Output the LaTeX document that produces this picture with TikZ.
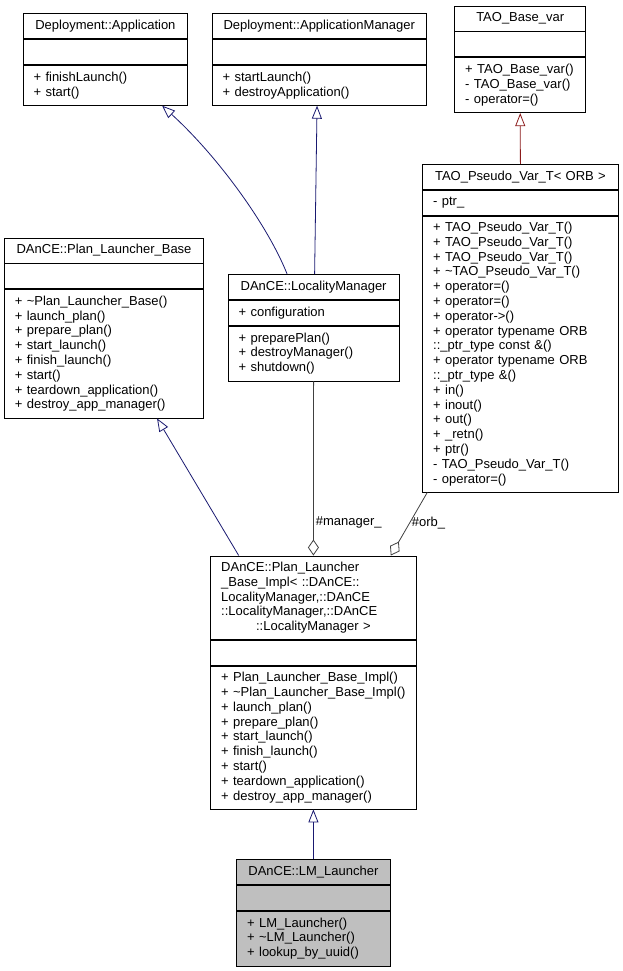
\documentclass[tikz,border=0pt]{standalone}
\usepackage{fontspec}
\setmainfont{Liberation Sans}
\usetikzlibrary{arrows.meta}
\definecolor{inhblue}{HTML}{191970}
\definecolor{inhred}{HTML}{8B1A1A}
\definecolor{aggray}{HTML}{404040}
\definecolor{lmgray}{HTML}{BFBFBF}
\newcommand{\umlfont}{\fontsize{13}{14.8}\selectfont}
\tikzset{
  part/.style={draw=black, line width=0.8pt, fill=white, anchor=north west,
    inner xsep=10.5pt, inner ysep=0pt, text width=#1, align=left, font=\umlfont},
  head/.style={part=#1, align=center, minimum height=25},
  inherit/.style={draw=inhblue, line width=0.8pt, -{Triangle[open,length=13pt,width=10pt]}},
  inheritred/.style={inherit, draw=inhred},
  aggreg/.style={draw=aggray, line width=0.8pt, -{Diamond[open,length=16pt,width=11pt]}},
  rolelbl/.style={font=\umlfont, anchor=west, inner sep=2pt, text=black},
}
\begin{document}
\begin{tikzpicture}[x=1pt,y=-1pt]
	\useasboundingbox (0,0) rectangle (623,971);
	% classes du haut
	\node[head=143.6] (appT) at (22.7,13.3) {Deployment::Application};
	\node[part=143.6, minimum height=25] (appA) at (appT.south west) {};
	\node[part=143.6, minimum height=40] (appM) at (appA.south west) {+ finishLaunch()\\+ start()};
	\node[head=193.3] (amT) at (211.7,13.3) {Deployment::ApplicationManager};
	\node[part=193.3, minimum height=25] (amA) at (amT.south west) {};
	\node[part=193.3, minimum height=40] (amM) at (amA.south west) {+ startLaunch()\\+ destroyApplication()};
	\node[head=110] (tbT) at (454.3,5.7) {TAO\_Base\_var};
	\node[part=110, minimum height=25] (tbA) at (tbT.south west) {};
	\node[part=110, minimum height=55] (tbM) at (tbA.south west) {+ TAO\_Base\_var()\\- TAO\_Base\_var()\\- operator=()};
	\node[head=174.4] (tpT) at (422.3,164) {TAO\_Pseudo\_Var\_T< ORB >};
	\node[part=174.4, minimum height=25] (tpA) at (tpT.south west) {- ptr\_};
	\node[part=174.4, minimum height=276] (tpM) at (tpA.south west) {+ TAO\_Pseudo\_Var\_T()\\+ TAO\_Pseudo\_Var\_T()\\+ TAO\_Pseudo\_Var\_T()\\+ \textasciitilde TAO\_Pseudo\_Var\_T()\\+ operator=()\\+ operator=()\\+ operator->()\\+ operator typename ORB\\::\_ptr\_type const \&()\\+ operator typename ORB\\::\_ptr\_type \&()\\+ in()\\+ inout()\\+ out()\\+ \_retn()\\+ ptr()\\- TAO\_Pseudo\_Var\_T()\\- operator=()};
	% classes du milieu
	\node[head=178.3] (pbT) at (4,237.5) {DAnCE::Plan\_Launcher\_Base};
	\node[part=178.3, minimum height=25] (pbA) at (pbT.south west) {};
	\node[part=178.3, minimum height=128.5] (pbM) at (pbA.south west) {+ \textasciitilde Plan\_Launcher\_Base()\\+ launch\_plan()\\+ prepare\_plan()\\+ start\_launch()\\+ finish\_launch()\\+ start()\\+ teardown\_application()\\+ destroy\_app\_manager()};
	\node[head=150] (lmT) at (227.7,274) {DAnCE::LocalityManager};
	\node[part=150, minimum height=25] (lmA) at (lmT.south west) {+ configuration};
	\node[part=150, minimum height=55] (lmM) at (lmA.south west) {+ preparePlan()\\+ destroyManager()\\+ shutdown()};
	% classes du bas
	\node[part=184.4, minimum height=83.5] (implT) at (210.3,555.5) {DAnCE::Plan\_Launcher\\\_Base\_Impl< ::DAnCE::\\LocalityManager,::DAnCE\\::LocalityManager,::DAnCE\\\makebox[\linewidth][c]{::LocalityManager >}};
	\node[part=184.4, minimum height=25] (implA) at (implT.south west) {};
	\node[part=184.4, minimum height=143] (implM) at (implA.south west) {+ Plan\_Launcher\_Base\_Impl()\\+~\textasciitilde Plan\_Launcher\_Base\_Impl()\\+ launch\_plan()\\+ prepare\_plan()\\+ start\_launch()\\+ finish\_launch()\\+ start()\\+ teardown\_application()\\+ destroy\_app\_manager()};
	\node[head=132.4, fill=lmgray] (lmlT) at (236.3,859) {DAnCE::LM\_Launcher};
	\node[part=132.4, fill=lmgray, minimum height=25] (lmlA) at (lmlT.south west) {};
	\node[part=132.4, fill=lmgray, minimum height=55] (lmlM) at (lmlA.south west) {+ LM\_Launcher()\\+ \textasciitilde LM\_Launcher()\\+ lookup\_by\_uuid()};
	% heritage
	\draw[inherit] ([xshift=-26.5pt]lmT.north) .. controls +(-20,-50) and +(55,50) .. ([xshift=56.7pt]appM.south);
	\draw[inherit] ([xshift=1pt]lmT.north) -- ([xshift=-2.2pt]amM.south);
	\draw[inheritred] (tpT.north) -- (tbM.south);
	\draw[inherit] ([xshift=-74.7pt]implT.north) -- ([xshift=53pt]pbM.south);
	\draw[inherit] (lmlT.north) -- (implM.south);
	% agregation
	\draw[aggreg] (lmM.south) -- node[rolelbl, pos=0.81] {\#manager\_} (implT.north);
	\draw[aggreg] ([xshift=5pt]tpM.south west) -- node[rolelbl, pos=0.49] {\#orb\_} ([xshift=-25.7pt]implT.north east);
\end{tikzpicture}
\end{document}
